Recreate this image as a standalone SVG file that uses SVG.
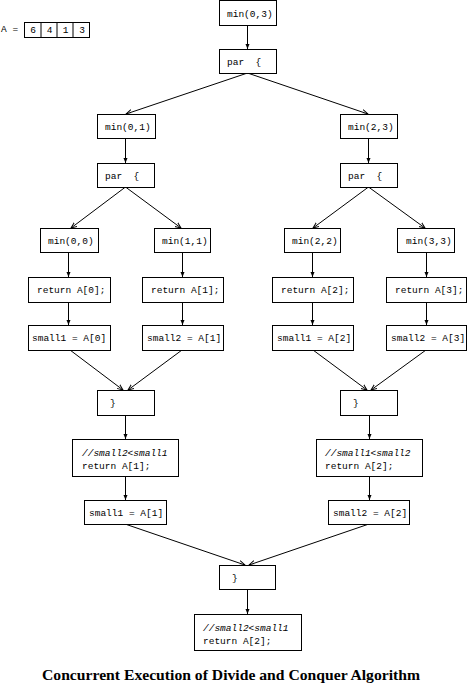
<svg xmlns="http://www.w3.org/2000/svg" width="467" height="691" viewBox="0 0 467 691">
<style>
rect.b{fill:#fff;stroke:#000;stroke-width:1}
text.c{font-family:"Liberation Mono","DejaVu Sans Mono",monospace;font-size:9.5px;fill:#000}
text.i{font-style:italic}
#connectors line{stroke:#000;stroke-width:1}
line.v{marker-end:url(#af)}
line.d{marker-end:url(#ao)}
text.t{font-family:"Liberation Serif","DejaVu Serif",serif;font-size:15px;font-weight:bold;fill:#000}
</style>
<defs>
<marker id="af" markerUnits="userSpaceOnUse" markerWidth="6" markerHeight="5" refX="5" refY="2" orient="auto"><path d="M0,0 L5,2 L0,4 z" fill="#000"/></marker>
<marker id="ao" markerUnits="userSpaceOnUse" markerWidth="7" markerHeight="7" refX="6" refY="3" orient="auto"><path d="M0,0.5 L6,3 L0,5.5" fill="none" stroke="#000" stroke-width="1"/></marker>
</defs>
<rect width="467" height="691" fill="#fff"/>

<g id="array">
<text class="c" x="1" y="32" xml:space="preserve">A =</text>
<rect class="b" x="24.5" y="22.5" width="65" height="15"/>
<line x1="41" y1="22.5" x2="41" y2="37.5" stroke="#000"/>
<line x1="57" y1="22.5" x2="57" y2="37.5" stroke="#000"/>
<line x1="73" y1="22.5" x2="73" y2="37.5" stroke="#000"/>
<text class="c" x="33" y="32.5" text-anchor="middle">6</text>
<text class="c" x="49.5" y="32.5" text-anchor="middle">4</text>
<text class="c" x="65.5" y="32.5" text-anchor="middle">1</text>
<text class="c" x="82" y="32.5" text-anchor="middle">3</text>
</g>

<g id="connectors">
<line class="v" x1="247.5" y1="25" x2="247.5" y2="49"/>
<line class="d" x1="247.5" y1="73" x2="126" y2="114"/>
<line class="d" x1="247.5" y1="73" x2="368" y2="114"/>
<line class="v" x1="125.5" y1="138" x2="125.5" y2="163"/>
<line class="v" x1="368.5" y1="138" x2="368.5" y2="163"/>
<line class="d" x1="125.5" y1="187" x2="71" y2="228"/>
<line class="d" x1="125.5" y1="187" x2="181" y2="228"/>
<line class="d" x1="368.5" y1="187" x2="313" y2="228"/>
<line class="d" x1="368.5" y1="187" x2="425" y2="228"/>
<line class="v" x1="68.5" y1="252" x2="68.5" y2="277"/>
<line class="v" x1="182.5" y1="252" x2="182.5" y2="277"/>
<line class="v" x1="312.5" y1="252" x2="312.5" y2="277"/>
<line class="v" x1="426.5" y1="252" x2="426.5" y2="277"/>
<line class="v" x1="68.5" y1="302" x2="68.5" y2="325"/>
<line class="v" x1="182.5" y1="302" x2="182.5" y2="325"/>
<line class="v" x1="312.5" y1="302" x2="312.5" y2="325"/>
<line class="v" x1="426.5" y1="302" x2="426.5" y2="325"/>
<line class="d" x1="70" y1="350" x2="123" y2="390"/>
<line class="d" x1="182" y1="350" x2="128" y2="390"/>
<line class="d" x1="313" y1="350" x2="367" y2="390"/>
<line class="d" x1="426" y1="350" x2="371" y2="390"/>
<line class="v" x1="125.5" y1="415" x2="125.5" y2="439"/>
<line class="v" x1="369.5" y1="415" x2="369.5" y2="439"/>
<line class="v" x1="125.5" y1="476" x2="125.5" y2="500"/>
<line class="v" x1="369.5" y1="476" x2="369.5" y2="500"/>
<line class="d" x1="125" y1="524" x2="245" y2="565"/>
<line class="d" x1="369" y1="524" x2="249" y2="565"/>
<line class="v" x1="247.5" y1="589" x2="247.5" y2="614"/>
</g>

<g id="n_min03"><rect class="b" x="219.5" y="0.5" width="57" height="25"/><text class="c" x="227" y="17">min(0,3)</text></g>
<g id="n_par0"><rect class="b" x="219.5" y="49.5" width="57" height="24"/><text class="c" x="227" y="65" xml:space="preserve">par  {</text></g>

<g id="n_min01"><rect class="b" x="97.5" y="114.5" width="58" height="24"/><text class="c" x="105" y="130">min(0,1)</text></g>
<g id="n_min23"><rect class="b" x="340.5" y="114.5" width="57" height="24"/><text class="c" x="348" y="130">min(2,3)</text></g>

<g id="n_parL"><rect class="b" x="97.5" y="163.5" width="57" height="24"/><text class="c" x="105" y="179" xml:space="preserve">par  {</text></g>
<g id="n_parR"><rect class="b" x="340.5" y="163.5" width="57" height="24"/><text class="c" x="348" y="179" xml:space="preserve">par  {</text></g>

<g id="n_min00"><rect class="b" x="40.5" y="228.5" width="58" height="24"/><text class="c" x="48" y="244">min(0,0)</text></g>
<g id="n_min11"><rect class="b" x="154.5" y="228.5" width="56" height="24"/><text class="c" x="162" y="244">min(1,1)</text></g>
<g id="n_min22"><rect class="b" x="284.5" y="228.5" width="56" height="24"/><text class="c" x="292" y="244">min(2,2)</text></g>
<g id="n_min33"><rect class="b" x="397.5" y="228.5" width="57" height="24"/><text class="c" x="406" y="244">min(3,3)</text></g>

<g id="n_ret0"><rect class="b" x="28.5" y="277.5" width="82" height="25"/><text class="c" x="37" y="293">return A[0];</text></g>
<g id="n_ret1"><rect class="b" x="142.5" y="277.5" width="81" height="25"/><text class="c" x="151" y="293">return A[1];</text></g>
<g id="n_ret2"><rect class="b" x="272.5" y="277.5" width="81" height="25"/><text class="c" x="281" y="293">return A[2];</text></g>
<g id="n_ret3"><rect class="b" x="386.5" y="277.5" width="80" height="25"/><text class="c" x="395" y="293">return A[3];</text></g>

<g id="n_s1a0"><rect class="b" x="28.5" y="325.5" width="82" height="25"/><text class="c" x="32" y="341">small1 = A[0]</text></g>
<g id="n_s2a1"><rect class="b" x="142.5" y="325.5" width="81" height="25"/><text class="c" x="147" y="341">small2 = A[1]</text></g>
<g id="n_s1a2"><rect class="b" x="272.5" y="325.5" width="81" height="25"/><text class="c" x="277" y="341">small1 = A[2]</text></g>
<g id="n_s2a3"><rect class="b" x="386.5" y="325.5" width="80" height="25"/><text class="c" x="391" y="341">small2 = A[3]</text></g>

<g id="n_endL"><rect class="b" x="97.5" y="390.5" width="57" height="25"/><text class="c" x="110" y="406">}</text></g>
<g id="n_endR"><rect class="b" x="340.5" y="390.5" width="57" height="25"/><text class="c" x="353" y="406">}</text></g>

<g id="n_cmpL"><rect class="b" x="72.5" y="439.5" width="106" height="37"/><text class="c i" x="82" y="456">//small2&lt;small1</text><text class="c" x="82" y="469">return A[1];</text></g>
<g id="n_cmpR"><rect class="b" x="316.5" y="439.5" width="106" height="37"/><text class="c i" x="325" y="456">//small1&lt;small2</text><text class="c" x="325" y="469">return A[2];</text></g>

<g id="n_s1a1"><rect class="b" x="84.5" y="500.5" width="82" height="24"/><text class="c" x="89" y="516">small1 = A[1]</text></g>
<g id="n_s2a2"><rect class="b" x="328.5" y="500.5" width="81" height="24"/><text class="c" x="333" y="516">small2 = A[2]</text></g>

<g id="n_end0"><rect class="b" x="219.5" y="565.5" width="56" height="24"/><text class="c" x="232" y="581">}</text></g>
<g id="n_cmp0"><rect class="b" x="194.5" y="614.5" width="107" height="36"/><text class="c i" x="203" y="631">//small2&lt;small1</text><text class="c" x="203" y="644">return A[2];</text></g>

<text class="t" x="231" y="680" text-anchor="middle" textLength="378" lengthAdjust="spacingAndGlyphs">Concurrent Execution of Divide and Conquer Algorithm</text>
</svg>
